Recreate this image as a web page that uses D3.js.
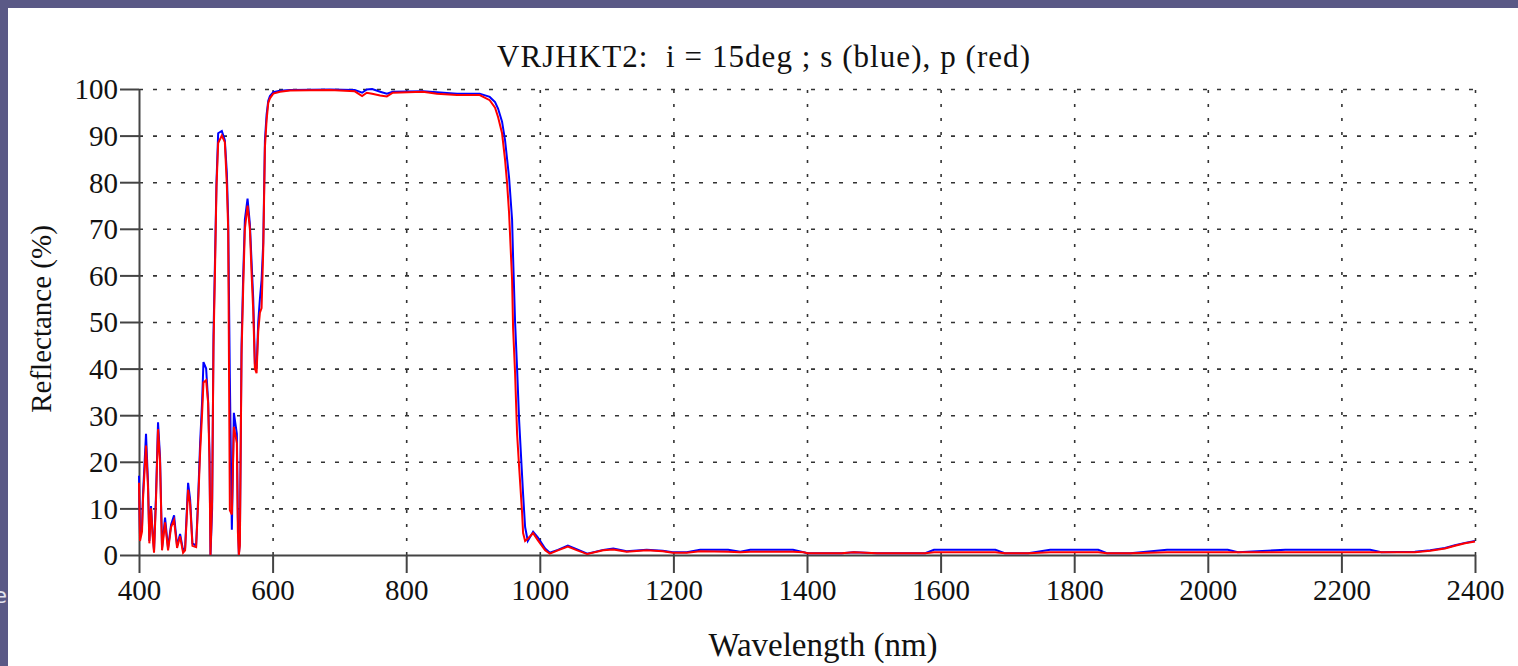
<!DOCTYPE html>
<html>
<head>
<meta charset="utf-8">
<script src="https://cdn.jsdelivr.net/npm/d3@7"></script>
<style>
  body { margin: 0; padding: 0; background: #5a5986; overflow: hidden; }
  text { font-family: "Liberation Serif", "Times New Roman", serif; fill: #111; }
</style>
</head>
<body>
<div id="chart"></div>
<script>
// wavelength (nm) and reflectance (%)
var wavelength = [400, 401.5, 404.5, 406, 410.5, 413.5, 415.5, 418, 420.5, 422.5, 425.5, 428.5, 431.5, 434.5,
  439, 443.5, 448, 452.5, 457, 461.5, 466, 469, 473.5, 476.5, 480, 485.5, 488.5, 491.5, 494.5, 496.5, 500.5,
  503.5, 505.5, 507, 509.5, 511.5, 514, 516, 518.5, 524, 528.5, 531.5, 533.5, 536, 539, 542, 546.5, 548, 549.5,
  551, 553.5, 556, 558.5, 562.5, 566, 568.5, 571, 573.5, 576, 578.5, 581, 583.5, 586, 588.5, 591, 593.5, 596,
  601, 611, 626, 686, 723, 734, 741, 749, 761, 771, 780, 825, 846, 876, 910, 925, 933, 937.5, 943.5, 948, 951,
  954, 958.5, 960, 963, 966, 969, 973.5, 975, 978, 982, 990, 997, 1008, 1015, 1027, 1042, 1056, 1071, 1095,
  1110, 1130, 1160, 1184, 1199, 1220, 1240, 1282, 1300, 1315, 1379, 1395, 1401, 1452, 1470, 1505, 1577, 1590,
  1682, 1696, 1731, 1764, 1836, 1849, 1884, 1939, 2030, 2045, 2116, 2243, 2260, 2310, 2333, 2355, 2370, 2385, 2400]

var pPol = [15.5, 3, 5, 12, 23.5, 14.5, 2.5, 10, 4, 0.5, 12, 27, 20, 1,
  7, 1, 6, 7.5, 1.5, 4, 0.5, 1, 14, 11, 2, 1.7, 11, 22, 30.5, 37, 37.5,
  32.6, 20, 0, 12, 44.6, 63, 79, 88.4, 90, 88.6, 79.4, 70, 9.6, 8.7, 27.5, 24, 5, 0,
  2, 43, 57.5, 70, 75, 70, 60.5, 52.5, 40, 39, 48, 52, 53, 65.5, 87.5, 93.3, 97, 98,
  99, 99.4, 99.7, 99.8, 99.5, 98.5, 99.2, 99, 98.6, 98.4, 99.2, 99.4, 99, 98.7, 98.7, 97.6, 96, 94, 90.5, 84.8, 79.8,
  73.4, 59, 48.7, 39, 26, 19, 9, 4.7, 3, 3.5, 4.7, 3.2, 1, 0.3, 1, 1.8, 1, 0.2, 1,
  1.2, 0.7, 1, 0.8, 0.5, 0.5, 0.8, 0.7, 0.6, 0.7, 0.7, 0.6, 0.4, 0.4, 0.6, 0.4, 0.4, 0.6,
  0.6, 0.4, 0.4, 0.6, 0.6, 0.4, 0.4, 0.6, 0.6, 0.6, 0.6, 0.6, 0.6, 0.6, 0.9, 1.4, 2, 2.5, 2.9]

var sPol = [17, 4, 6, 13, 26, 15.5, 3, 10.5, 4.5, 1, 13, 28.5, 21, 1.5,
  8, 1.5, 6.5, 8.5, 2, 4.5, 1, 1.5, 15.5, 12, 2.5, 2, 12, 24, 33, 41.4, 40,
  33, 22, 0, 10, 47, 65, 80, 90.5, 91, 89, 82, 72, 38, 5.4, 30.5, 26, 8, 0,
  3, 45, 60, 72, 76.5, 71, 63, 55, 41, 40, 50, 55, 59, 67, 89, 94.5, 97.5, 98.5,
  99.3, 99.6, 99.8, 99.9, 99.8, 99.2, 99.9, 100, 99.4, 99, 99.4, 99.5, 99.3, 99, 99, 98.3, 97.2, 95.8, 93, 89, 85,
  81, 72, 64, 50, 40, 29, 17, 13, 6, 3, 5, 3.8, 1.4, 0.5, 1.1, 2, 1.2, 0.3, 1.1,
  1.4, 0.8, 1.1, 0.9, 0.6, 0.6, 1.1, 1.1, 0.7, 1.1, 1.1, 0.6, 0.4, 0.4, 0.6, 0.4, 0.4, 1.1,
  1.1, 0.4, 0.4, 1.1, 1.1, 0.4, 0.4, 1.1, 1.1, 0.6, 1.1, 1.1, 0.6, 0.7, 1, 1.5, 2.1, 2.6, 3]

var xTicks = [400, 600, 800, 1000, 1200, 1400, 1600, 1800, 2000, 2200, 2400]
var yTicks = [0, 10, 20, 30, 40, 50, 60, 70, 80, 90, 100]

// set the dimensions and margins of the graph
var margin = {top: 89, right: 43, bottom: 111, left: 139},
    W = 1518, H = 666,
    width = W - margin.left - margin.right,
    height = H - margin.top - margin.bottom

var root = d3.select("#chart")
  .append("svg")
    .attr("width", W)
    .attr("height", H)
    .style("display", "block")

// slide background and the cut off text at the left edge
root.append("rect")
  .attr("width", W).attr("height", H)
  .attr("fill", "#5a5986")
root.append("text")
  .attr("x", 7).attr("y", 603)
  .attr("text-anchor", "end")
  .style("font-family", "'DejaVu Sans', sans-serif")
  .style("font-size", "22px")
  .style("fill", "#e4e4ee")
  .text("e")
root.append("rect")
  .attr("x", 8).attr("y", 8)
  .attr("width", W - 8).attr("height", H - 8)
  .attr("fill", "#fff")

var svg = root.append("g")
  .attr("transform", "translate(" + margin.left + "," + margin.top + ")")

var x = d3.scaleLinear()
  .domain([400, 2400])
  .range([0, width])

var y = d3.scaleLinear()
  .domain([0, 100])
  .range([height, 0])

// dotted grid
svg.append("g")
  .attr("class", "grid")
  .call(d3.axisLeft(y).tickValues(yTicks.slice(1)).tickSize(-width).tickFormat(""))
  .call(g => g.select(".domain").remove())
  .call(g => g.selectAll("line")
    .attr("stroke", "#333").attr("stroke-width", 1.6).attr("stroke-dasharray", "4,10"))

svg.append("g")
  .attr("class", "grid")
  .attr("transform", "translate(0," + height + ")")
  .call(d3.axisBottom(x).tickValues(xTicks.slice(1)).tickSize(-height).tickFormat(""))
  .call(g => g.select(".domain").remove())
  .call(g => g.selectAll("line")
    .attr("stroke", "#333").attr("stroke-width", 1.6).attr("stroke-dasharray", "3,11"))

// Add X axis
svg.append("g")
  .attr("transform", "translate(0," + height + ")")
  .call(d3.axisBottom(x).tickValues(xTicks).tickSize(18).tickSizeOuter(0).tickFormat(d3.format("d")))
  .call(g => g.select(".domain").attr("stroke", "#444").attr("stroke-width", 2))
  .call(g => g.selectAll(".tick line").attr("stroke", "#444").attr("stroke-width", 2))
  .call(g => g.selectAll("text").style("font-size", "29px").attr("y", 24).attr("dy", "0.71em").attr("fill", "#111"))

// Add Y axis
svg.append("g")
  .call(d3.axisLeft(y).tickValues(yTicks).tickSize(19).tickSizeOuter(0).tickPadding(2))
  .call(g => g.select(".domain").attr("stroke", "#444").attr("stroke-width", 2))
  .call(g => g.selectAll(".tick line").attr("stroke", "#444").attr("stroke-width", 2))
  .call(g => g.selectAll("text").style("font-size", "29px").attr("dy", "0.34em").attr("fill", "#111"))

// the two curves, s first and p on top
var line = function (vals) {
  return d3.line()
    .x((d, i) => x(wavelength[i]))
    .y((d) => y(d))(vals)
}

svg.append("path")
  .attr("d", line(sPol))
  .attr("fill", "none")
  .attr("stroke", "#0000ff")
  .attr("stroke-width", 2)

svg.append("path")
  .attr("d", line(pPol))
  .attr("fill", "none")
  .attr("stroke", "#ff0000")
  .attr("stroke-width", 2)

// titles
root.append("text")
  .attr("x", 497).attr("y", 67)
  .attr("textLength", 533)
  .attr("lengthAdjust", "spacing")
  .style("font-size", "31px")
  .style("white-space", "pre")
  .text("VRJHKT2:  i = 15deg ; s (blue), p (red)")

root.append("text")
  .attr("x", 823).attr("y", 656)
  .attr("text-anchor", "middle")
  .style("font-size", "33px")
  .text("Wavelength (nm)")

root.append("text")
  .attr("transform", "translate(51,319) rotate(-90)")
  .attr("text-anchor", "middle")
  .style("font-size", "29px")
  .text("Reflectance (%)")
</script>
</body>
</html>
